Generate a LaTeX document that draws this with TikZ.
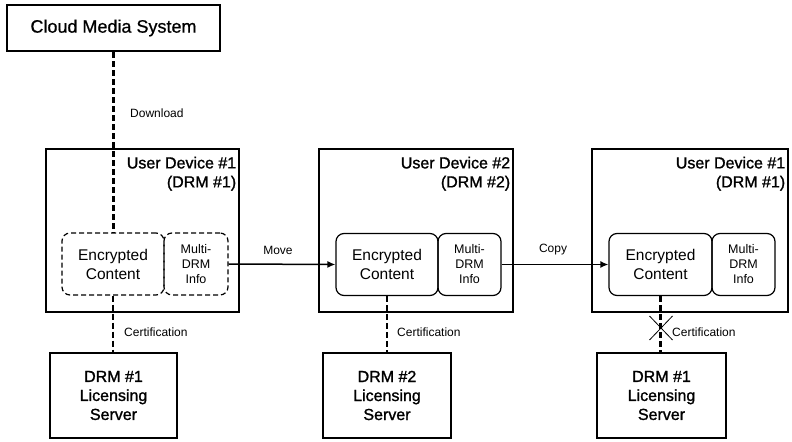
\documentclass[tikz,border=0pt]{standalone}
\usepackage{fontspec}
\setmainfont{Liberation Sans}
\newfontfamily\semibf[FakeBold=1.3]{Liberation Sans}
\newfontfamily\lightbf[FakeBold=0.7]{Liberation Sans}
\usetikzlibrary{arrows.meta,calc}
\begin{document}
\begin{tikzpicture}[x=1bp,y=-1bp,
  bigbox/.style={draw,line width=2.8bp,inner sep=0pt,align=center},
  inbox/.style={draw,line width=1.2bp,rounded corners=8bp,inner sep=0pt,align=center,minimum height=62bp},
  dashbox/.style={inbox,dash pattern=on 5bp off 3bp},
  conn/.style={line width=2.4bp,dash pattern=on 6bp off 3bp},
  arr/.style={line width=1.5bp,-{Latex[length=8bp,width=7bp]}},
  lbl/.style={font=\fontsize{12bp}{14bp}\selectfont,inner sep=0pt},
  title/.style={font=\semibf\fontsize{16bp}{19bp}\selectfont,align=right,inner sep=0pt,anchor=north east},
  enctxt/.style={font=\fontsize{15.5bp}{19bp}\selectfont},
  multitxt/.style={font=\fontsize{12.5bp}{15bp}\selectfont},
  srvtxt/.style={font=\semibf\fontsize{16bp}{19bp}\selectfont}
]
\useasboundingbox[fill=white] (0,0) rectangle (792,442);

% top system
\node[bigbox,line width=2.4bp,minimum width=213bp,minimum height=46bp,font=\lightbf\fontsize{18bp}{21bp}\selectfont] (cloud) at (113.5,28) {Cloud Media System};

% devices
\node[bigbox,minimum width=193bp,minimum height=163bp] (dev1) at (142.5,230.5) {};
\node[bigbox,minimum width=194bp,minimum height=163bp] (dev2) at (416,230.5) {};
\node[bigbox,minimum width=196bp,minimum height=163bp] (dev3) at (690,230.5) {};

\node[title] (t1) at ([xshift=-4bp,yshift=-9bp]dev1.north east) {User Device \#1\\(DRM \#1)};
\node[title] (t2) at ([xshift=-4bp,yshift=-9bp]dev2.north east) {User Device \#2\\(DRM \#2)};
\node[title] (t3) at ([xshift=-4bp,yshift=-9bp]dev3.north east) {User Device \#1\\(DRM \#1)};

% inner boxes
\node[dashbox,enctxt,minimum width=102bp] (enc1) at (113,264) {Encrypted\\Content};
\node[dashbox,multitxt,minimum width=64bp] (mul1) at (196,264) {Multi-\\DRM\\Info};
\node[inbox,enctxt,minimum width=102bp] (enc2) at (387,264.5) {Encrypted\\Content};
\node[inbox,multitxt,minimum width=63bp] (mul2) at (469.5,264.5) {Multi-\\DRM\\Info};
\node[inbox,enctxt,minimum width=103bp] (enc3) at (660.5,264.5) {Encrypted\\Content};
\node[inbox,multitxt,minimum width=63bp] (mul3) at (743.5,264.5) {Multi-\\DRM\\Info};

% servers
\node[bigbox,srvtxt,minimum width=127bp,minimum height=85bp] (srv1) at (113.5,395.5) {DRM \#1\\Licensing\\Server};
\node[bigbox,srvtxt,minimum width=128bp,minimum height=85bp] (srv2) at (387,395.5) {DRM \#2\\Licensing\\Server};
\node[bigbox,srvtxt,minimum width=129bp,minimum height=85bp] (srv3) at (661.5,395.5) {DRM \#1\\Licensing\\Server};

% connectors
\draw[conn] (cloud.south) -- (cloud.south |- enc1.north);
\draw[conn] (enc1.south) -- (enc1.south |- srv1.north);
\draw[conn] (enc2.south) -- (enc2.south |- srv2.north);
\draw[conn] (enc3.south) -- (enc3.south |- srv3.north);
\draw[arr] (mul1.east) -- (enc2.west);
\draw[arr] (mul2.east) -- (enc3.west);

% blocked certification cross
\coordinate (xc) at (661,328);
\draw[line width=0.8bp] ([xshift=-11.5bp,yshift=12bp]xc) -- ([xshift=11.5bp,yshift=-12bp]xc);
\draw[line width=0.8bp] ([xshift=-11.5bp,yshift=-12bp]xc) -- ([xshift=11.5bp,yshift=12bp]xc);

% labels
\node[lbl,anchor=west] (ldl) at (130,113) {Download};
\node[lbl,anchor=west] (lc1) at (124,332) {Certification};
\node[lbl,anchor=west] (lc2) at (397,332) {Certification};
\node[lbl,anchor=west] (lc3) at (672,332) {Certification};
\node[lbl] (lmove) at (278,250) {Move};
\node[lbl] (lcopy) at (553,250) {Copy};
\end{tikzpicture}
\end{document}
